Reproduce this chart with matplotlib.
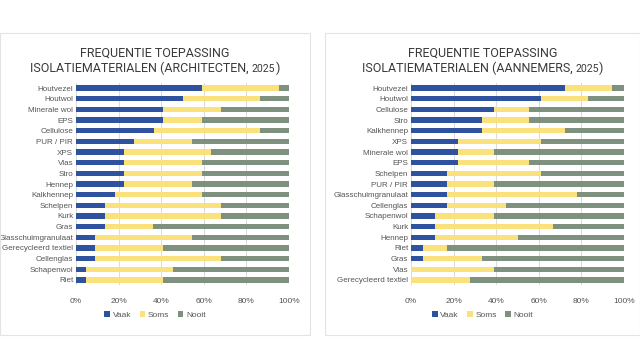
import matplotlib.pyplot as plt
from matplotlib.patches import Rectangle

# left panel: architects (percent of respondents)
arch_names = ["Houtvezel", "Houtwol", "Minerale wol", "EPS", "Cellulose", "PUR / PIR",
              "XPS", "Vlas", "Stro", "Hennep", "Kalkhennep", "Schelpen", "Kurk", "Gras",
              "Glasschuimgranulaat", "Gerecycleerd textiel", "Cellenglas", "Schapenwol", "Riet"]
arch_vaak = [59.1, 50.0, 40.9, 40.9, 36.4, 27.3, 22.7, 22.7, 22.7, 22.7, 18.2, 13.6, 13.6,
             13.6, 9.1, 9.1, 9.1, 4.5, 4.5]
arch_soms = [36.4, 36.4, 27.3, 18.2, 50.0, 27.3, 40.9, 36.4, 36.4, 31.8, 40.9, 54.5, 54.5,
             22.7, 45.5, 31.8, 59.1, 40.9, 36.4]
arch_nooit = [4.5, 13.6, 31.8, 40.9, 13.6, 45.4, 36.4, 40.9, 40.9, 45.5, 40.9, 31.9, 31.9,
              63.7, 45.4, 59.1, 31.8, 54.6, 59.1]

# right panel: contractors
aann_names = ["Houtvezel", "Houtwol", "Cellulose", "Stro", "Kalkhennep", "XPS", "Minerale wol",
              "EPS", "Schelpen", "PUR / PIR", "Glasschuimgranulaat", "Cellenglas", "Schapenwol",
              "Kurk", "Hennep", "Riet", "Gras", "Vlas", "Gerecycleerd textiel"]
aann_vaak = [72.2, 61.1, 38.9, 33.3, 33.3, 22.2, 22.2, 22.2, 16.7, 16.7, 16.7, 16.7, 11.1,
             11.1, 11.1, 5.6, 5.6, 0.0, 0.0]
aann_soms = [22.2, 22.2, 16.7, 22.2, 38.9, 38.9, 16.7, 33.3, 44.4, 22.2, 61.1, 27.8, 27.8,
             55.6, 38.9, 11.1, 27.8, 38.9, 27.8]
aann_nooit = [5.6, 16.7, 44.4, 44.5, 27.8, 38.9, 61.1, 44.5, 38.9, 61.1, 22.2, 55.5, 61.1,
              33.3, 50.0, 83.3, 66.6, 61.1, 72.2]

series_names = ["Vaak", "Soms", "Nooit"]
colors = ["#2f52a0", "#fae17c", "#7e917f"]
title_color = "#3a3a3a"
label_color = "#555555"

plt.rcParams['font.family'] = ['Liberation Sans', 'DejaVu Sans']

fig = plt.figure(figsize=(6.4, 3.6), dpi=100)
fig.patch.set_facecolor("white")
renderer = fig.canvas.get_renderer()

W, H = 640.0, 360.0
title_font = dict(family=["Roboto", "Liberation Sans"], weight="normal", color=title_color)


def title_line2(cx, y, who):
    # Excel-style title: the year is set a little smaller than the rest
    parts = [("ISOLATIEMATERIALEN (" + who + ", ", 9), ("2025", 7.6), (")", 9)]
    texts = []
    for s, fs in parts:
        texts.append(fig.text(0, y, s, ha="left", va="baseline", fontsize=fs, **title_font))
    widths = [t.get_window_extent(renderer).width for t in texts]
    x = cx * W - sum(widths) / 2
    for t, w in zip(texts, widths):
        t.set_x(x / W)
        x += w


def panel(box_x0, box_x1, ax_x0, ax_x1, names, vaak, soms, nooit, who):
    # chart-area frame
    fig.patches.append(Rectangle((box_x0 / W, 1 - 335 / H), (box_x1 - box_x0) / W, 302 / H,
                                 transform=fig.transFigure, fill=False,
                                 edgecolor="#e3e3e3", linewidth=0.8))
    ax = fig.add_axes([ax_x0 / W, 1 - 285.3 / H, (ax_x1 - ax_x0) / W, 202.6 / H])
    y = list(range(len(names)))
    left = [0] * len(names)
    for vals, name, c in zip([vaak, soms, nooit], series_names, colors):
        ax.barh(y, vals, left=left, height=0.5, color=c, label=name, zorder=3)
        left = [a + b for a, b in zip(left, vals)]
    ax.set_xlim(0, 100)
    ax.set_ylim(len(names) - 0.5, -0.5)
    ax.set_yticks(y)
    ax.set_yticklabels(names, fontsize=5.8, color=label_color)
    ax.set_xticks([0, 20, 40, 60, 80, 100])
    ax.set_xticklabels(["0%", "20%", "40%", "60%", "80%", "100%"], fontsize=6, color=label_color)
    ax.tick_params(length=0, pad=2)
    ax.tick_params(axis="x", pad=9)
    ax.grid(axis="x", color="#d9d9d9", linewidth=0.7, zorder=0)
    for s in ax.spines.values():
        s.set_visible(False)
    cx = (box_x0 + box_x1) / 2 / W
    fig.text(cx, 1 - 57 / H, "FREQUENTIE TOEPASSING", ha="center", va="baseline",
             fontsize=9, **title_font)
    title_line2(cx, 1 - 72 / H, who)
    fig.legend(*ax.get_legend_handles_labels(), loc="center", ncol=3,
               bbox_to_anchor=(cx, 1 - 315 / H), frameon=False, fontsize=6,
               handlelength=0.7, handleheight=0.7, handletextpad=0.3, columnspacing=1.0,
               labelcolor=label_color)


panel(0, 310, 76, 289, arch_names, arch_vaak, arch_soms, arch_nooit, "ARCHITECTEN")
panel(325, 640, 411, 624, aann_names, aann_vaak, aann_soms, aann_nooit, "AANNEMERS")

fig.savefig("out.png", dpi=100)
